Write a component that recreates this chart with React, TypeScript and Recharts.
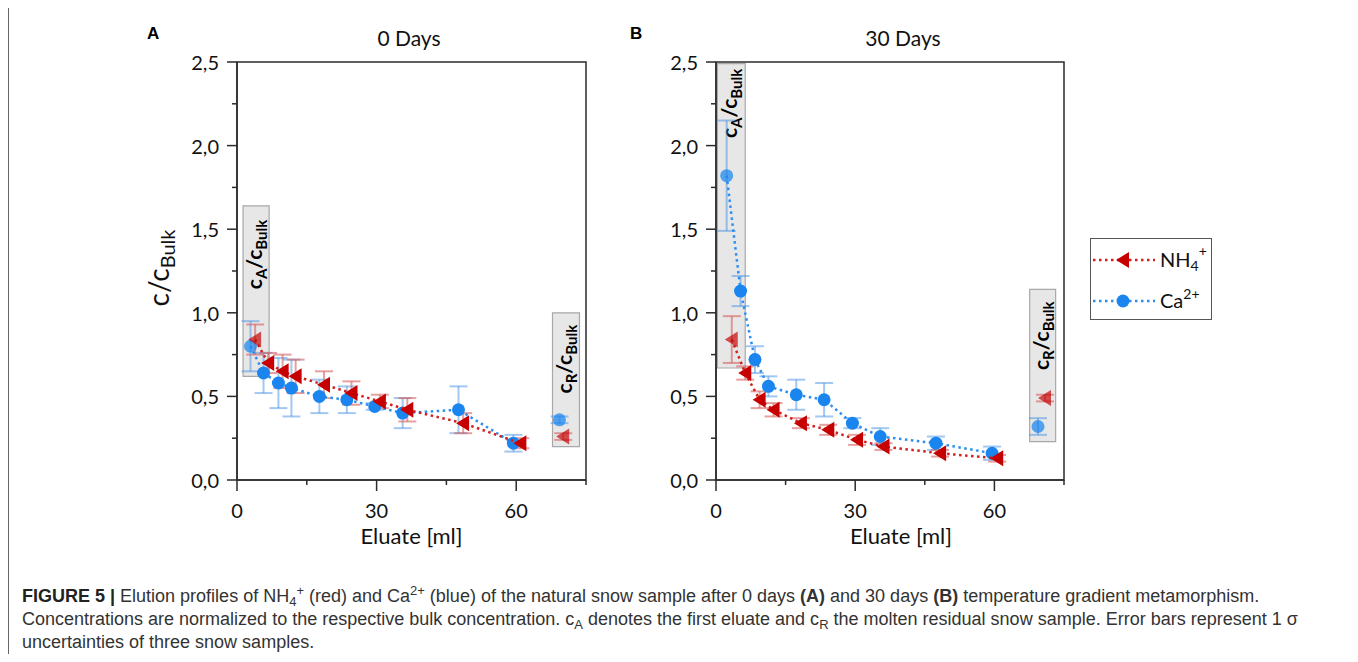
import React from "react";
import {
  ScatterChart,
  Scatter,
  XAxis,
  YAxis,
  ErrorBar,
  ReferenceArea,
  Legend,
} from "recharts";

// ─── Data ────────────────────────────────────────────────────────────────────

// Panel A – 0 days
const caEluate0 = [2.9, 5.7, 8.9, 11.7, 17.7, 23.6, 29.6, 35.6, 47.6, 59.4];
const caRatio0 = [0.8, 0.64, 0.58, 0.55, 0.5, 0.48, 0.44, 0.4, 0.42, 0.22];
const caSigma0 = [0.15, 0.12, 0.15, 0.17, 0.1, 0.08, 0.02, 0.09, 0.14, 0.05];
const nhEluate0 = [3.9, 6.7, 9.8, 12.6, 18.7, 24.6, 30.7, 36.6, 48.6, 60.9];
const nhRatio0 = [0.84, 0.7, 0.65, 0.62, 0.57, 0.52, 0.47, 0.42, 0.34, 0.22];
const nhSigma0 = [0.09, 0.06, 0.1, 0.1, 0.08, 0.07, 0.04, 0.07, 0.06, 0.03];

// Panel B – 30 days
const caEluate30 = [2.3, 5.3, 8.4, 11.3, 17.3, 23.3, 29.4, 35.4, 47.4, 59.5];
const caRatio30 = [1.82, 1.13, 0.72, 0.56, 0.51, 0.48, 0.34, 0.26, 0.22, 0.16];
const caSigma30 = [0.33, 0.09, 0.08, 0.06, 0.09, 0.1, 0.03, 0.05, 0.04, 0.04];
const nhEluate30 = [3.4, 6.3, 9.4, 12.4, 18.3, 24.2, 30.4, 36.1, 48.3, 60.6];
const nhRatio30 = [0.84, 0.64, 0.48, 0.42, 0.34, 0.3, 0.24, 0.2, 0.16, 0.13];
const nhSigma30 = [0.14, 0.04, 0.05, 0.04, 0.03, 0.03, 0.03, 0.02, 0.02, 0.02];

// Molten residual snow (c_R): [panel A, panel B]
const caResidEluate = [69.3, 69.4];
const caResidRatio = [0.36, 0.32];
const caResidSigma = [0.02, 0.05];
const nhResidEluate = [70.1, 70.9];
const nhResidRatio = [0.26, 0.49];
const nhResidSigma = [0.02, 0.02];

// Shaded annotation boxes [x1, x2, y1, y2]: [panel A, panel B]
const firstEluateBox = [
  [1.3, 6.9, 0.62, 1.64],
  [0.3, 6.3, 0.67, 2.49],
];
const residualBox = [
  [67.8, 73.6, 0.2, 1.0],
  [67.6, 73.2, 0.23, 1.14],
];

const xTicks = [0, 15, 30, 45, 60, 75];
const yTicks = [0, 0.25, 0.5, 0.75, 1, 1.25, 1.5, 1.75, 2, 2.25, 2.5];
const panelTitles = ["0 Days", "30 Days"];
const panelLetters = ["A", "B"];

// ─── Styling ─────────────────────────────────────────────────────────────────

const FONT = "Lato, 'Open Sans', sans-serif";
const AXIS = "#2b2b2b";
const RED = "#c60000";
const RED_LINE = "#d31f1f";
const RED_ERR = "rgba(214, 96, 96, 0.6)";
const BLUE = "#1a85ee";
const BLUE_LINE = "#2a8ff0";
const BLUE_ERR = "rgba(70, 145, 228, 0.5)";
const DOTTED = "2.5 3.5";

type Pt = { x: number; y: number; err: number; faded?: boolean };

function toPoints(xs: number[], ys: number[], errs: number[], fadeFirst: boolean): Pt[] {
  return xs.map((x, i) => ({ x, y: ys[i], err: errs[i], faded: fadeFirst && i === 0 }));
}

// ─── Markers ─────────────────────────────────────────────────────────────────

function Tri({ cx, cy, faded }: { cx: number; cy: number; faded?: boolean }) {
  return (
    <polygon
      points={`${cx - 7},${cy} ${cx + 6},${cy - 8} ${cx + 6},${cy + 8}`}
      fill={RED}
      opacity={faded ? 0.68 : 1}
    />
  );
}

function Dot({ cx, cy, faded }: { cx: number; cy: number; faded?: boolean }) {
  return <circle cx={cx} cy={cy} r={6.5} fill={BLUE} opacity={faded ? 0.72 : 1} />;
}

// ─── Axis ticks & labels ─────────────────────────────────────────────────────

function YTick(props: any) {
  const { x, y, payload } = props;
  const v = payload.value as number;
  const major = Math.abs(v * 2 - Math.round(v * 2)) < 1e-6;
  return (
    <g>
      <line x1={x - (major ? 10 : 5)} x2={x} y1={y} y2={y} stroke={AXIS} strokeWidth={1.5} />
      {major && (
        <text
          x={x - 18}
          y={y}
          textAnchor="end"
          dominantBaseline="central"
          fontSize={20}
          fontFamily={FONT}
          fill="#111"
        >
          {v.toFixed(1).replace(".", ",")}
        </text>
      )}
    </g>
  );
}

function XTick(props: any) {
  const { x, y, payload } = props;
  const v = payload.value as number;
  const major = v % 30 === 0;
  return (
    <g>
      <line x1={x} x2={x} y1={y} y2={y + (major ? 11 : 5)} stroke={AXIS} strokeWidth={1.5} />
      {major && (
        <text
          x={x}
          y={y + 30}
          textAnchor="middle"
          dominantBaseline="central"
          fontSize={20}
          fontFamily={FONT}
          fill="#111"
        >
          {v}
        </text>
      )}
    </g>
  );
}

function XTitle(props: any) {
  const { viewBox, shift } = props;
  return (
    <text
      x={viewBox.x + viewBox.width / 2 + shift}
      y={viewBox.y + 55}
      textAnchor="middle"
      dominantBaseline="central"
      fontSize={22}
      fontFamily={FONT}
      fill="#111"
    >
      Eluate [ml]
    </text>
  );
}

function YTitle(props: any) {
  const { viewBox } = props;
  const bx = viewBox.x + viewBox.width - 68;
  const cy = viewBox.y + viewBox.height / 2 - 3;
  return (
    <text
      transform={`translate(${bx},${cy}) rotate(-90)`}
      textAnchor="middle"
      fontSize={28}
      fontFamily={FONT}
      fill="#111"
    >
      c/c
      <tspan fontSize={20} dy={6}>
        Bulk
      </tspan>
    </text>
  );
}

function BoxLabel(props: any) {
  const { viewBox, sub, gap } = props;
  const bx = viewBox.x + viewBox.width / 2 + 6;
  const top = viewBox.y + gap;
  return (
    <text
      transform={`translate(${bx},${top}) rotate(-90)`}
      textAnchor="end"
      fontSize={21}
      fontWeight={700}
      fontFamily={FONT}
      fill="#000"
    >
      c
      <tspan fontSize={15} dy={5}>
        {sub}
      </tspan>
      <tspan dy={-5}>/c</tspan>
      <tspan fontSize={15} dy={5}>
        Bulk
      </tspan>
    </text>
  );
}

// ─── Legend ──────────────────────────────────────────────────────────────────

function LegendBox() {
  return (
    <svg width={122} height={82} style={{ display: "block" }}>
      <rect x={0.5} y={0.5} width={121} height={81} fill="#fff" stroke="#555" />
      <line x1={3} x2={65} y1={22} y2={22} stroke={RED_LINE} strokeWidth={2.5} strokeDasharray={DOTTED} />
      <Tri cx={33} cy={22} />
      <text x={70} y={29} fontSize={20} fontFamily={FONT} fill="#111">
        NH
        <tspan fontSize={14} dy={4}>
          4
        </tspan>
        <tspan fontSize={14} dy={-15}>
          +
        </tspan>
      </text>
      <line x1={3} x2={65} y1={63} y2={63} stroke={BLUE_LINE} strokeWidth={2.5} strokeDasharray={DOTTED} />
      <Dot cx={33} cy={63} />
      <text x={70} y={70} fontSize={20} fontFamily={FONT} fill="#111">
        Ca
        <tspan fontSize={14} dy={-9}>
          2+
        </tspan>
      </text>
    </svg>
  );
}

// ─── Panel ───────────────────────────────────────────────────────────────────

type PanelProps = {
  idx: number;
  left: number;
  width: number;
  yAxisWidth: number;
  marginRight: number;
  ca: Pt[];
  nh: Pt[];
  titleShift: number;
  labelGaps: [number, number];
  showYTitle?: boolean;
  showLegend?: boolean;
};

function Panel(p: PanelProps) {
  const caRes: Pt[] = [
    { x: caResidEluate[p.idx], y: caResidRatio[p.idx], err: caResidSigma[p.idx], faded: true },
  ];
  const nhRes: Pt[] = [
    { x: nhResidEluate[p.idx], y: nhResidRatio[p.idx], err: nhResidSigma[p.idx], faded: true },
  ];
  const [ax1, ax2, ay1, ay2] = firstEluateBox[p.idx];
  const [rx1, rx2, ry1, ry2] = residualBox[p.idx];

  return (
    <div style={{ position: "absolute", left: p.left, top: 0 }}>
      <ScatterChart
        width={p.width}
        height={560}
        margin={{ top: 62, right: p.marginRight, bottom: 20, left: 0 }}
      >
        <XAxis
          dataKey="x"
          type="number"
          domain={[0, 75]}
          ticks={xTicks}
          interval={0}
          tick={(t: any) => <XTick {...t} />}
          tickLine={false}
          tickSize={0}
          tickMargin={0}
          height={60}
          axisLine={{ stroke: AXIS, strokeWidth: 1.5 }}
          label={<XTitle shift={p.titleShift} />}
        />
        <YAxis
          dataKey="y"
          type="number"
          domain={[0, 2.5]}
          ticks={yTicks}
          interval={0}
          tick={(t: any) => <YTick {...t} />}
          tickLine={false}
          tickSize={0}
          tickMargin={0}
          width={p.yAxisWidth}
          axisLine={{ stroke: AXIS, strokeWidth: 1.5 }}
          label={p.showYTitle ? <YTitle /> : undefined}
        />
        <ReferenceArea x1={0} x2={75} y1={0} y2={2.5} fill="none" stroke={AXIS} strokeWidth={1.5} />
        <ReferenceArea
          x1={ax1}
          x2={ax2}
          y1={ay1}
          y2={ay2}
          fill="#e4e4e4"
          fillOpacity={0.9}
          stroke="#a8a8a8"
          strokeWidth={1.2}
          label={<BoxLabel sub="A" gap={p.labelGaps[0]} />}
        />
        <ReferenceArea
          x1={rx1}
          x2={rx2}
          y1={ry1}
          y2={ry2}
          fill="#e4e4e4"
          fillOpacity={0.9}
          stroke="#a8a8a8"
          strokeWidth={1.2}
          label={<BoxLabel sub="R" gap={p.labelGaps[1]} />}
        />
        <Scatter
          data={p.ca}
          isAnimationActive={false}
          line={{ stroke: BLUE_LINE, strokeWidth: 2.5, strokeDasharray: DOTTED }}
          shape={(s: any) => <Dot cx={s.cx} cy={s.cy} faded={s.payload?.faded} />}
        >
          <ErrorBar dataKey="err" direction="y" width={9} stroke={BLUE_ERR} strokeWidth={2} />
        </Scatter>
        <Scatter
          data={caRes}
          isAnimationActive={false}
          shape={(s: any) => <Dot cx={s.cx} cy={s.cy} faded={s.payload?.faded} />}
        >
          <ErrorBar dataKey="err" direction="y" width={9} stroke={BLUE_ERR} strokeWidth={2} />
        </Scatter>
        <Scatter
          data={p.nh}
          isAnimationActive={false}
          line={{ stroke: RED_LINE, strokeWidth: 2.5, strokeDasharray: DOTTED }}
          shape={(s: any) => <Tri cx={s.cx} cy={s.cy} faded={s.payload?.faded} />}
        >
          <ErrorBar dataKey="err" direction="y" width={9} stroke={RED_ERR} strokeWidth={2} />
        </Scatter>
        <Scatter
          data={nhRes}
          isAnimationActive={false}
          shape={(s: any) => <Tri cx={s.cx} cy={s.cy} faded={s.payload?.faded} />}
        >
          <ErrorBar dataKey="err" direction="y" width={9} stroke={RED_ERR} strokeWidth={2} />
        </Scatter>
        {p.showLegend && (
          <Legend
            layout="horizontal"
            align="center"
            verticalAlign="middle"
            content={() => <LegendBox />}
            wrapperStyle={{ position: "absolute", left: 490, top: 238, width: 122, height: 82 }}
          />
        )}
      </ScatterChart>
    </div>
  );
}

// ─── Figure ──────────────────────────────────────────────────────────────────

const sub: React.CSSProperties = { fontSize: 13, position: "relative", top: 4, lineHeight: 0 };
const sup: React.CSSProperties = { fontSize: 13, position: "relative", top: -7, lineHeight: 0 };

export default function App() {
  return (
    <div
      style={{
        position: "relative",
        width: 1358,
        height: 662,
        margin: -8,
        background: "#fff",
        overflow: "hidden",
      }}
    >
      <div
        style={{
          position: "absolute",
          left: 8,
          top: 0,
          width: 1345,
          height: 662,
          borderLeft: "1px solid #666",
          borderRight: "1px solid #666",
        }}
      />

      {panelLetters.map((l, i) => (
        <div
          key={l}
          style={{
            position: "absolute",
            left: i === 0 ? 147 : 630,
            top: 24,
            fontFamily: "'Liberation Sans', Arial, sans-serif",
            fontWeight: 700,
            fontSize: 17,
          }}
        >
          {l}
        </div>
      ))}
      {panelTitles.map((t, i) => (
        <div
          key={t}
          style={{
            position: "absolute",
            left: i === 0 ? 409 : 903,
            top: 37,
            transform: "translate(-50%, -50%)",
            fontFamily: FONT,
            fontSize: 21,
            color: "#111",
            whiteSpace: "nowrap",
          }}
        >
          {t}
        </div>
      ))}

      <Panel
        idx={0}
        left={120}
        width={480}
        yAxisWidth={117}
        marginRight={14}
        ca={toPoints(caEluate0, caRatio0, caSigma0, true)}
        nh={toPoints(nhEluate0, nhRatio0, nhSigma0, true)}
        titleShift={0}
        labelGaps={[14, 12]}
        showYTitle
      />
      <Panel
        idx={1}
        left={600}
        width={640}
        yAxisWidth={116}
        marginRight={176}
        ca={toPoints(caEluate30, caRatio30, caSigma30, true)}
        nh={toPoints(nhEluate30, nhRatio30, nhSigma30, true)}
        titleShift={11}
        labelGaps={[5, 12]}
        showLegend
      />

      <div
        style={{
          position: "absolute",
          left: 22,
          top: 585,
          fontFamily: "'Liberation Sans', Arial, sans-serif",
          fontSize: 18,
          lineHeight: "23px",
          color: "#333",
          whiteSpace: "nowrap",
        }}
      >
        <b style={{ color: "#222" }}>FIGURE 5 |</b> Elution profiles of NH<span style={sub}>4</span>
        <span style={sup}>+</span> (red) and Ca<span style={sup}>2+</span> (blue) of the natural snow sample
        after 0 days <b>(A)</b> and 30 days <b>(B)</b> temperature gradient metamorphism.
        <br />
        Concentrations are normalized to the respective bulk concentration. c<span style={sub}>A</span> denotes
        the first eluate and c<span style={sub}>R</span> the molten residual snow sample. Error bars represent 1 σ
        <br />
        uncertainties of three snow samples.
      </div>
    </div>
  );
}
